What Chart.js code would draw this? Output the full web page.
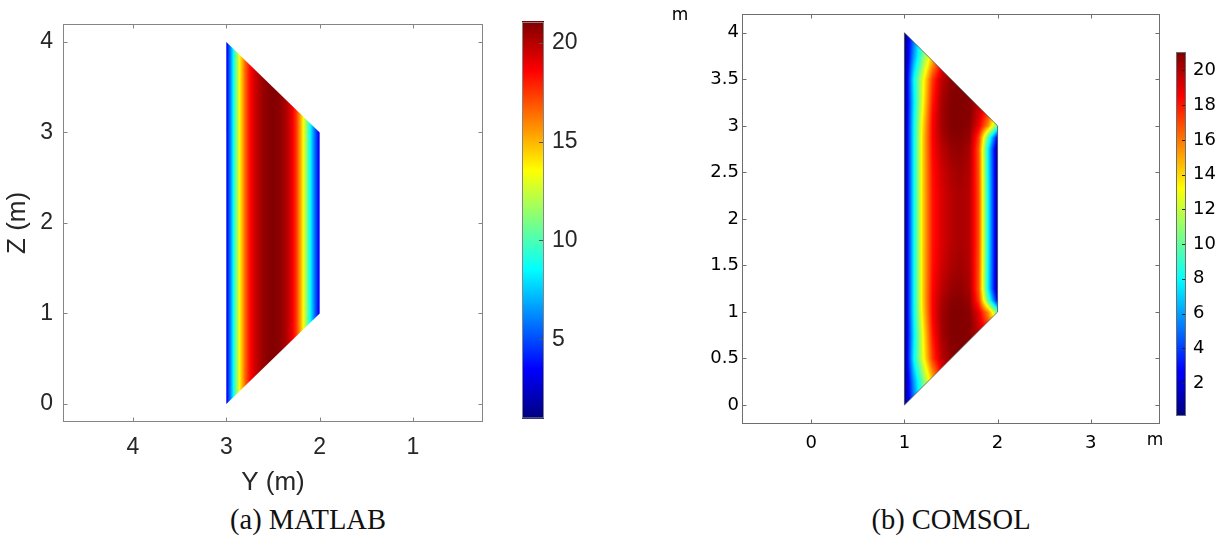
<!DOCTYPE html>
<html>
<head>
<meta charset="utf-8">
<script src="https://cdn.jsdelivr.net/npm/chart.js@4.4.1/dist/chart.umd.min.js"></script>
<style>
body { margin: 0; background: #fff; }
#wrap { position: relative; width: 1224px; height: 543px; overflow: hidden; }
canvas { position: absolute; }
.cap { position: absolute; font-family: "Liberation Serif", serif; font-size: 28.5px; color: #111; white-space: nowrap; transform: translateX(-50%); }
</style>
</head>
<body>
<div id="wrap">
  <canvas id="mA" width="500" height="500" style="left:0px;top:0px"></canvas>
  <canvas id="cA" width="100" height="440" style="left:500px;top:0px"></canvas>
  <canvas id="mB" width="510" height="470" style="left:660px;top:0px"></canvas>
  <canvas id="cB" width="59" height="440" style="left:1165px;top:0px"></canvas>
  <div class="cap" style="left:308px;top:504px">(a) MATLAB</div>
  <div class="cap" style="left:951px;top:504px">(b) COMSOL</div>
</div>
<script>
// values

// (a) MATLAB: field only changes across Y
const matlabY = [3.00, 2.95, 2.90, 2.85, 2.80, 2.75, 2.70, 2.65, 2.60, 2.55, 2.50,
                 2.45, 2.40, 2.35, 2.30, 2.25, 2.20, 2.15, 2.10, 2.05, 2.00];
const matlabField = [3, 6.5, 10.5, 14, 16.5, 18.3, 19.4, 20.1, 20.6, 20.9, 21,
                     20.9, 20.6, 20.0, 19.1, 17.5, 15, 12, 8.5, 5.5, 3];
const matlabShape = [[3, 0], [3, 4], [2, 3], [2, 1]];
const matlabYTicks = [4, 3, 2, 1];
const matlabZTicks = [0, 1, 2, 3, 4];
const matlabBarTicks = [5, 10, 15, 20];
const matlabBarRange = [1, 21.07];

// (b) COMSOL: grid of values, rows are z, columns are y
const comsolY = [1.0, 1.1, 1.2, 1.3, 1.4, 1.5, 1.6, 1.7, 1.8, 1.9, 2.0];
const comsolZ = [0, 0.25, 0.5, 0.75, 0.875, 1, 1.125, 1.25, 1.5, 1.75, 2,
                 2.25, 2.5, 2.75, 2.875, 3, 3.125, 3.25, 3.5, 3.75, 4];
const comsolField = [
  [0.1, 5.0, 9.8, 13.8, 17.8, 20.0, 20.5, 20.5, 20.0, 19.0, 17.0],
  [0.1, 5.8, 10.3, 14.3, 17.8, 20.0, 21.0, 21.0, 20.5, 19.0, 17.0],
  [0.1, 7.8, 12.8, 17.2, 19.8, 20.7, 21.0, 21.0, 20.5, 19.0, 17.0],
  [0.1, 7.4, 13.2, 17.9, 20.2, 21.0, 21.0, 20.9, 19.8, 18.0, 16.0],
  [0.1, 7.6, 13.6, 18.2, 20.3, 21.0, 21.0, 20.9, 19.4, 17.0, 13.5],
  [0.1, 7.8, 14.0, 18.4, 20.3, 21.0, 21.0, 20.8, 18.8, 15.5, 10.0],
  [0.1, 7.8, 14.2, 18.4, 20.1, 20.8, 20.9, 20.5, 17.2, 9.5, 2.5],
  [0.1, 7.8, 14.2, 18.3, 19.8, 20.5, 20.7, 20.2, 16.6, 7.6, 0.5],
  [0.1, 7.8, 14.2, 18.1, 19.4, 20.1, 20.4, 20.0, 16.7, 7.7, 0.5],
  [0.1, 7.8, 14.2, 18.0, 19.2, 19.9, 20.2, 19.9, 16.8, 7.8, 0.5],
  [0.1, 7.8, 14.2, 18.0, 19.2, 19.9, 20.2, 19.9, 16.8, 7.8, 0.5],
  [0.1, 7.8, 14.2, 18.0, 19.2, 19.9, 20.2, 19.9, 16.8, 7.8, 0.5],
  [0.1, 7.8, 14.2, 18.1, 19.4, 20.1, 20.4, 20.0, 16.7, 7.7, 0.5],
  [0.1, 7.8, 14.2, 18.3, 19.8, 20.5, 20.7, 20.2, 16.6, 7.6, 0.5],
  [0.1, 7.8, 14.2, 18.4, 20.1, 20.8, 20.9, 20.5, 17.2, 9.5, 2.5],
  [0.1, 7.8, 14.0, 18.4, 20.3, 21.0, 21.0, 20.8, 18.8, 15.5, 10.0],
  [0.1, 7.6, 13.6, 18.2, 20.3, 21.0, 21.0, 20.9, 19.4, 17.0, 13.5],
  [0.1, 7.4, 13.2, 17.9, 20.2, 21.0, 21.0, 20.9, 19.8, 18.0, 16.0],
  [0.1, 7.8, 12.8, 17.2, 19.8, 20.7, 21.0, 21.0, 20.5, 19.0, 17.0],
  [0.1, 5.8, 10.3, 14.3, 17.8, 20.0, 21.0, 21.0, 20.5, 19.0, 17.0],
  [0.1, 5.0, 9.8, 13.8, 17.8, 20.0, 20.5, 20.5, 20.0, 19.0, 17.0]
];
const comsolShape = [[1, 0], [1, 4], [2, 3], [2, 1]];
const comsolYTicks = [0, 1, 2, 3];
const comsolZTicks = [0, 0.5, 1, 1.5, 2, 2.5, 3, 3.5, 4];
const comsolBarTicks = [2, 4, 6, 8, 10, 12, 14, 16, 18, 20];
const comsolBarRange = [0.1, 21.06];

// jet colour map
function jet(t) {
  t = Math.max(0, Math.min(1, t));
  const c = v => Math.round(255 * Math.max(0, Math.min(1, 1.5 - Math.abs(v))));
  return [c(4 * t - 3), c(4 * t - 2), c(4 * t - 1)];
}

// find segment of arr holding v (arr ascending or descending)
function seg(arr, v) {
  const n = arr.length;
  const asc = arr[n - 1] > arr[0];
  for (let i = 0; i < n - 1; i++) {
    const a = arr[i], b = arr[i + 1];
    if ((asc && v <= b) || (!asc && v >= b)) {
      return [i, Math.max(0, Math.min(1, (v - a) / (b - a)))];
    }
  }
  return [n - 2, 1];
}

function matlabAt(y, z) {
  const [i, f] = seg(matlabY, y);
  return matlabField[i] * (1 - f) + matlabField[i + 1] * f;
}

function comsolAt(y, z) {
  const [i, fx] = seg(comsolY, y);
  const [j, fz] = seg(comsolZ, z);
  const r0 = comsolField[j], r1 = comsolField[j + 1];
  const a = r0[i] * (1 - fx) + r0[i + 1] * fx;
  const b = r1[i] * (1 - fx) + r1[i + 1] * fx;
  return a * (1 - fz) + b * fz;
}

function fieldPlugin(shape, valueAt, range, outline) {
  return {
    id: 'field',
    beforeDatasetsDraw(chart) {
      const ctx = chart.ctx, xs = chart.scales.x, ys = chart.scales.y;
      const pts = shape.map(p => [xs.getPixelForValue(p[0]), ys.getPixelForValue(p[1])]);
      const x0 = Math.floor(Math.min(...pts.map(p => p[0]))) - 1;
      const x1 = Math.ceil(Math.max(...pts.map(p => p[0]))) + 1;
      const y0 = Math.floor(Math.min(...pts.map(p => p[1]))) - 1;
      const y1 = Math.ceil(Math.max(...pts.map(p => p[1]))) + 1;
      const w = x1 - x0, h = y1 - y0;
      const off = document.createElement('canvas');
      off.width = w; off.height = h;
      const octx = off.getContext('2d');
      const img = octx.createImageData(w, h);
      for (let j = 0; j < h; j++) {
        const zv = ys.getValueForPixel(y0 + j + 0.5);
        for (let i = 0; i < w; i++) {
          const yv = xs.getValueForPixel(x0 + i + 0.5);
          const c = jet((valueAt(yv, zv) - range[0]) / (range[1] - range[0]));
          const k = 4 * (j * w + i);
          img.data[k] = c[0]; img.data[k + 1] = c[1]; img.data[k + 2] = c[2]; img.data[k + 3] = 255;
        }
      }
      octx.putImageData(img, 0, 0);
      ctx.save();
      ctx.beginPath();
      pts.forEach((p, i) => i ? ctx.lineTo(p[0], p[1]) : ctx.moveTo(p[0], p[1]));
      ctx.closePath();
      ctx.clip();
      ctx.drawImage(off, x0, y0);
      ctx.restore();
      if (outline) {
        ctx.save();
        ctx.strokeStyle = outline;
        ctx.lineWidth = 0.8;
        ctx.beginPath();
        pts.forEach((p, i) => i ? ctx.lineTo(p[0], p[1]) : ctx.moveTo(p[0], p[1]));
        ctx.closePath();
        ctx.stroke();
        ctx.restore();
      }
    }
  };
}

function boxPlugin(color, tickLen, extra) {
  return {
    id: 'box',
    afterDraw(chart) {
      const ctx = chart.ctx, a = chart.chartArea;
      const xs = chart.scales.x, ys = chart.scales.y;
      const L = Math.round(a.left) + 0.5, R = Math.round(a.right) - 0.5;
      const T = Math.round(a.top) + 0.5, B = Math.round(a.bottom) - 0.5;
      ctx.save();
      ctx.strokeStyle = color;
      ctx.lineWidth = 1;
      ctx.strokeRect(L, T, R - L, B - T);
      ctx.beginPath();
      xs.ticks.forEach(t => {
        const p = Math.round(xs.getPixelForValue(t.value)) + 0.5;
        ctx.moveTo(p, T); ctx.lineTo(p, T + tickLen);
        ctx.moveTo(p, B); ctx.lineTo(p, B - tickLen);
      });
      ys.ticks.forEach(t => {
        const p = Math.round(ys.getPixelForValue(t.value)) + 0.5;
        ctx.moveTo(L, p); ctx.lineTo(L + tickLen, p);
        ctx.moveTo(R, p); ctx.lineTo(R - tickLen, p);
      });
      ctx.stroke();
      if (extra) extra(ctx);
      ctx.restore();
    }
  };
}

function barPlugin(range, border, tickColor, tickLen) {
  return {
    id: 'bar',
    beforeDatasetsDraw(chart) {
      const ctx = chart.ctx, a = chart.chartArea, ys = chart.scales.y;
      for (let py = Math.floor(a.top); py < Math.ceil(a.bottom); py++) {
        const v = ys.getValueForPixel(py + 0.5);
        const c = jet((v - range[0]) / (range[1] - range[0]));
        ctx.fillStyle = 'rgb(' + c.join(',') + ')';
        ctx.fillRect(a.left, py, a.right - a.left, 1);
      }
      ctx.save();
      ctx.strokeStyle = border;
      ctx.lineWidth = 1;
      ctx.strokeRect(Math.round(a.left) + 0.5, Math.round(a.top) + 0.5, a.right - a.left - 1, a.bottom - a.top - 1);
      ctx.strokeStyle = tickColor;
      ctx.beginPath();
      ys.ticks.forEach(t => {
        const p = Math.round(ys.getPixelForValue(t.value)) + 0.5;
        ctx.moveTo(a.right - 1, p); ctx.lineTo(a.right - 1 - tickLen, p);
      });
      ctx.stroke();
      ctx.restore();
    }
  };
}

const fixedTicks = arr => s => { s.ticks = arr.map(v => ({ value: v })); };

const matlabTickFont = { family: 'Liberation Sans', size: 23 };
const matlabTitleFont = { family: 'Liberation Sans', size: 26 };
const comsolFont = { family: 'DejaVu Sans', size: 18 };

// (a) MATLAB panel
new Chart(document.getElementById('mA'), {
  type: 'scatter',
  data: { datasets: [] },
  options: {
    responsive: false, animation: false, devicePixelRatio: 1,
    layout: { padding: { left: 0, top: 12, right: 17, bottom: 0 } },
    plugins: { legend: { display: false }, tooltip: { enabled: false } },
    scales: {
      x: {
        type: 'linear', reverse: true, min: 0.25, max: 4.75,
        grid: { display: false, drawTicks: false }, border: { display: false },
        afterBuildTicks: fixedTicks(matlabYTicks),
        afterFit: s => { s.height = 78; },
        ticks: { autoSkip: false, maxRotation: 0, font: matlabTickFont, color: '#262626', padding: 12, callback: v => String(v) },
        title: { display: true, text: 'Y (m)', font: matlabTitleFont, color: '#262626', padding: { top: 0, bottom: 2 } }
      },
      y: {
        type: 'linear', min: -0.2, max: 4.2,
        grid: { display: false, drawTicks: false }, border: { display: false },
        afterBuildTicks: fixedTicks(matlabZTicks),
        afterFit: s => { s.width = 63; },
        ticks: { autoSkip: false, font: matlabTickFont, color: '#262626', padding: 10, callback: v => String(v) },
        title: { display: true, text: 'Z (m)', font: matlabTitleFont, color: '#262626', padding: { top: 2, bottom: 0 } }
      }
    }
  },
  plugins: [fieldPlugin(matlabShape, matlabAt, matlabBarRange, null), boxPlugin('#858585', 4)]
});

// (a) colour bar
new Chart(document.getElementById('cA'), {
  type: 'scatter',
  data: { datasets: [] },
  options: {
    responsive: false, animation: false, devicePixelRatio: 1,
    layout: { padding: { left: 22, top: 7, right: 0, bottom: 13 } },
    plugins: { legend: { display: false }, tooltip: { enabled: false } },
    scales: {
      x: { display: false, min: 0, max: 1 },
      y: {
        position: 'right', min: matlabBarRange[0], max: matlabBarRange[1],
        grid: { display: false, drawTicks: false }, border: { display: false },
        afterBuildTicks: fixedTicks(matlabBarTicks),
        afterFit: s => { s.width = 56; },
        ticks: { autoSkip: false, font: matlabTickFont, color: '#262626', padding: 8, callback: v => String(v) }
      }
    }
  },
  plugins: [barPlugin(matlabBarRange, '#858585', '#555', 4)]
});

// (b) COMSOL panel
new Chart(document.getElementById('mB'), {
  type: 'scatter',
  data: { datasets: [] },
  options: {
    responsive: false, animation: false, devicePixelRatio: 1,
    layout: { padding: { left: 0, top: 13, right: 10, bottom: 0 } },
    plugins: { legend: { display: false }, tooltip: { enabled: false } },
    scales: {
      x: {
        type: 'linear', min: -0.744, max: 3.744,
        grid: { display: false, drawTicks: false }, border: { display: false },
        afterBuildTicks: fixedTicks(comsolYTicks),
        afterFit: s => { s.height = 46; },
        ticks: { autoSkip: false, maxRotation: 0, font: comsolFont, color: '#000', padding: 9, callback: v => String(v) }
      },
      y: {
        type: 'linear', min: -0.204, max: 4.204,
        grid: { display: false, drawTicks: false }, border: { display: false },
        afterBuildTicks: fixedTicks(comsolZTicks),
        afterFit: s => { s.width = 82; },
        ticks: { autoSkip: false, font: comsolFont, color: '#000', padding: 3, callback: v => String(v) }
      }
    }
  },
  plugins: [
    fieldPlugin(comsolShape, comsolAt, comsolBarRange, 'rgba(60,60,60,0.85)'),
    boxPlugin('#6e6e6e', 4, ctx => {
      ctx.fillStyle = '#000';
      ctx.font = '17px "DejaVu Sans"';
      ctx.textAlign = 'center';
      ctx.textBaseline = 'middle';
      ctx.fillText('m', 20, 16);
      ctx.fillText('m', 495, 441);
    })
  ]
});

// (b) colour bar
new Chart(document.getElementById('cB'), {
  type: 'scatter',
  data: { datasets: [] },
  options: {
    responsive: false, animation: false, devicePixelRatio: 1,
    layout: { padding: { left: 11, top: 52, right: 0, bottom: 24 } },
    plugins: { legend: { display: false }, tooltip: { enabled: false } },
    scales: {
      x: { display: false, min: 0, max: 1 },
      y: {
        position: 'right', min: comsolBarRange[0], max: comsolBarRange[1],
        grid: { display: false, drawTicks: false }, border: { display: false },
        afterBuildTicks: fixedTicks(comsolBarTicks),
        afterFit: s => { s.width = 38; },
        ticks: { autoSkip: false, font: comsolFont, color: '#000', padding: 7, callback: v => String(v) }
      }
    }
  },
  plugins: [barPlugin(comsolBarRange, '#6e6e6e', '#222', 3)]
});
</script>
</body>
</html>
